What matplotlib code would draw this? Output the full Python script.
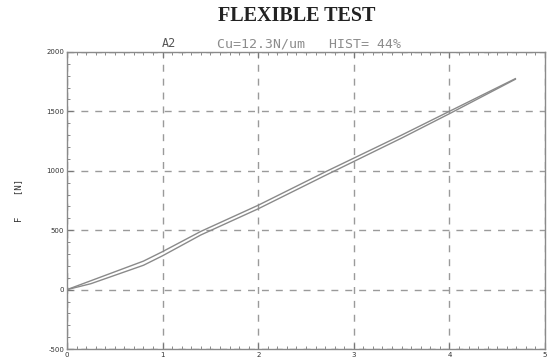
import matplotlib.pyplot as plt
from matplotlib.ticker import MultipleLocator

# displacement (axis units) and force [N]
x_up = [0, 0.25, 0.8, 1.0, 1.4, 2.0, 2.7, 3.5, 4.0, 4.69]
f_up = [0, 75, 240, 320, 490, 710, 990, 1300, 1500, 1775]
x_low = [0, 0.25, 0.8, 1.0, 1.4, 2.0, 2.7, 3.5, 4.0, 4.69]
f_low = [0, 50, 205, 285, 460, 680, 960, 1275, 1480, 1770]

x_ticks = [0, 1, 2, 3, 4, 5]
y_ticks = [-500, 0, 500, 1000, 1500, 2000]


def main():
	fig = plt.figure(figsize=(5.48, 3.58), dpi=100)
	ax = fig.add_axes([0.1223, 0.025, 0.8722, 0.83])

	ax.plot(x_up, f_up, color='#8a8a8a', lw=1.0)
	ax.plot(x_low, f_low, color='#8a8a8a', lw=1.0)

	ax.set_xlim(0, 5)
	ax.set_ylim(-500, 2000)
	ax.set_xticks(x_ticks)
	ax.set_yticks(y_ticks)
	ax.set_xticklabels([str(v) for v in x_ticks])
	ax.set_yticklabels([str(v) for v in y_ticks])
	ax.xaxis.set_minor_locator(MultipleLocator(0.1))
	ax.yaxis.set_minor_locator(MultipleLocator(100))
	ax.tick_params(which='both', direction='in', top=True, right=False,
		color='#777777', labelsize=5, labelcolor='#333333')
	ax.tick_params(which='major', length=4, pad=2)
	ax.tick_params(which='minor', length=2)

	ax.grid(True, which='major', color='#9a9a9a', ls=(0, (5, 5)), lw=1.0)
	for s in ax.spines.values():
		s.set_color('#8a8a8a')
		s.set_linewidth(1.0)

	ax.set_ylabel('F    [N]', fontsize=6.5, color='#333333', family='DejaVu Sans Mono', labelpad=17)

	fig.text(0.542, 0.955, 'FLEXIBLE TEST', ha='center', va='center',
		fontsize=14.5, fontweight='bold', family='Liberation Serif', color='#222222')
	fig.text(0.296, 0.878, 'A2', ha='left', va='center', fontsize=8.5,
		family='DejaVu Sans Mono', color='#555555')
	fig.text(0.396, 0.878, 'Cu=12.3N/um   HIST= 44%', ha='left', va='center', fontsize=9.5,
		family='DejaVu Sans Mono', color='#8c8c8c')

	fig.savefig('out.png', dpi=100)


if __name__ == '__main__':
	main()
